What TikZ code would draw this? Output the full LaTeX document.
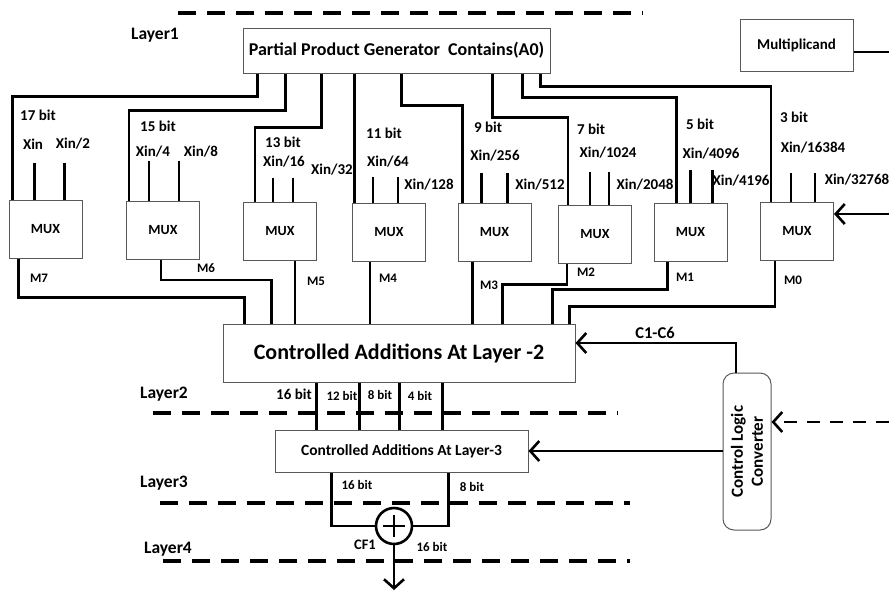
\documentclass[tikz,border=0pt]{standalone}
\usepackage{fontspec}
\setmainfont{Carlito}
\usetikzlibrary{positioning,arrows.meta}

\begin{document}
\begin{tikzpicture}[x=1pt, y=-1pt, every node/.style={align=center, inner sep=0pt},
    block/.style={draw=black!65, line width=1pt, fill=white},
    muxbox/.style={block, minimum width=73pt, minimum height=58pt, font=\bfseries\fontsize{14}{14}\selectfont},
    tag/.style={font=\bfseries\fontsize{13}{13}\selectfont},
    intag/.style={font=\bfseries\fontsize{15}{15}\selectfont},
    layer/.style={font=\bfseries\fontsize{17.5}{17.5}\selectfont},
    wire/.style={line width=2.6pt},
    layerline/.style={line width=3.5pt, dash pattern=on 18pt off 11pt},
    >={Straight Barb[length=9pt,width=20pt]}]

    \useasboundingbox (0,0) rectangle (889,595);

    % layer separators
    \draw[layerline] (178,13) -- (643,13);
    \draw[layerline] (153,413) -- (618,413);
    \draw[layerline] (160,503) -- (630,503);
    \draw[layerline] (163,561) -- (630,561);

    \node[layer] (l1) at (155,35) {Layer1};
    \node[layer] (l2) at (164,394) {Layer2};
    \node[layer] (l3) at (164,483) {Layer3};
    \node[layer] (l4) at (168,549) {Layer4};

    % blocks
    \node[block, minimum width=307pt, minimum height=45pt, font=\bfseries\fontsize{18}{18}\selectfont] (ppg) at (396.5,50.5) {Partial Product Generator\ \ Contains(A0)};
    \node[block, minimum width=113pt, minimum height=52pt, font=\bfseries\fontsize{15}{15}\selectfont] (mult) at (796.5,45) {Multiplicand};

    \node[muxbox] (mux1) at (45.5,229) {MUX};
    \node[muxbox] (mux2) at (163,230.5) {MUX};
    \node[muxbox] (mux3) at (280,231) {MUX};
    \node[muxbox] (mux4) at (389,232) {MUX};
    \node[muxbox] (mux5) at (494.5,232) {MUX};
    \node[muxbox] (mux6) at (595,234) {MUX};
    \node[muxbox] (mux7) at (690.5,232) {MUX};
    \node[muxbox] (mux8) at (797,231) {MUX};

    \node[block, minimum width=352pt, minimum height=58pt, font=\bfseries\fontsize{22}{22}\selectfont] (ca2) at (399,353) {Controlled Additions At Layer -2};
    \node[block, minimum width=253pt, minimum height=42pt, font=\bfseries\fontsize{15.5}{15.5}\selectfont] (ca3) at (401.5,451) {Controlled Additions At Layer-3};
    \node[block, rounded corners=11pt, rotate=90, minimum width=157pt, minimum height=48pt, font=\bfseries\fontsize{17}{20}\selectfont] (clc) at (747,451.5) {Control Logic\\Converter};
    \node[circle, draw, line width=2.6pt, minimum size=36pt] (adder) at (394,526) {};

    % partial products to the muxes
    \draw[wire] ([xshift=15]ppg.south west) -- ++(0,23) -| ([xshift=4]mux1.north west);
    \draw[wire] ([xshift=43]ppg.south west) -- ++(0,37) -| ([xshift=3]mux2.north west);
    \draw[wire] ([xshift=79]ppg.south west) -- ++(0,54) -| ([xshift=12]mux3.north west);
    \draw[wire] ([xshift=112]ppg.south west) -- ([xshift=112]ppg.south west |- mux4.north);
    \draw[wire] ([xshift=159]ppg.south west) -- ++(0,32) -| ([xshift=5]mux5.north west);
    \draw[wire] ([xshift=250]ppg.south west) -- ++(0,44) -| ([xshift=10]mux6.north west);
    \draw[wire] ([xshift=280]ppg.south west) -- ++(0,24) -| ([xshift=23]mux7.north west);
    \draw[wire] ([xshift=298]ppg.south west) -- ++(0,13) -| ([xshift=11]mux8.north west);

    % shifted inputs
    \draw[wire] ([xshift=26]mux1.north west) -- ++(0,-37);
    \draw[wire] ([xshift=56]mux1.north west) -- ++(0,-37);
    \draw[wire] ([xshift=23]mux2.north west) -- ++(0,-40);
    \draw[wire] ([xshift=53]mux2.north west) -- ++(0,-40);
    \draw[wire] ([xshift=30]mux3.north west) -- ++(0,-24);
    \draw[wire] ([xshift=50]mux3.north west) -- ++(0,-24);
    \draw[wire] ([xshift=21]mux4.north west) -- ++(0,-26);
    \draw[wire] ([xshift=46]mux4.north west) -- ++(0,-26);
    \draw[wire] ([xshift=24]mux5.north west) -- ++(0,-30);
    \draw[wire] ([xshift=50]mux5.north west) -- ++(0,-30);
    \draw[wire] ([xshift=32]mux6.north west) -- ++(0,-33);
    \draw[wire] ([xshift=51]mux6.north west) -- ++(0,-33);
    \draw[wire] ([xshift=37]mux7.north west) -- ++(0,-33);
    \draw[wire] ([xshift=59]mux7.north west) -- ++(0,-33);
    \draw[wire] ([xshift=31]mux8.north west) -- ++(0,-29);
    \draw[wire] ([xshift=55]mux8.north west) -- ++(0,-29);

    \node[intag] (b17) at (38,115) {17 bit};
    \node[intag] (x1a) at (33,144) {Xin};
    \node[intag] (x1b) at (73,144) {Xin/2};
    \node[intag] (b15) at (158,126) {15 bit};
    \node[intag] (x2a) at (153,152) {Xin/4};
    \node[intag] (x2b) at (201,152) {Xin/8};
    \node[intag] (b13) at (283,142) {13 bit};
    \node[intag] (x3a) at (284,162) {Xin/16};
    \node[intag] (x3b) at (332,170) {Xin/32};
    \node[intag] (b11) at (384,133) {11 bit};
    \node[intag] (x4a) at (388,162) {Xin/64};
    \node[intag] (x4b) at (429,185) {Xin/128};
    \node[intag] (b9) at (488,127) {9 bit};
    \node[intag] (x5a) at (495,156) {Xin/256};
    \node[intag] (x5b) at (540,185) {Xin/512};
    \node[intag] (b7) at (591,129) {7 bit};
    \node[intag] (x6a) at (608,153) {Xin/1024};
    \node[intag] (x6b) at (645,185) {Xin/2048};
    \node[intag] (b5) at (700,124) {5 bit};
    \node[intag] (x7a) at (711,154) {Xin/4096};
    \node[intag] (x7b) at (741,181) {Xin/4196};
    \node[intag] (b3) at (794,117) {3 bit};
    \node[intag] (x8a) at (813,148) {Xin/16384};
    \node[intag] (x8b) at (857,180) {Xin/32768};

    % mux outputs
    \draw[wire] ([xshift=10]mux1.south west) -- ++(0,39) -| ([xshift=22]ca2.north west);
    \draw[wire] ([xshift=35]mux2.south west) -- ++(0,20) -| ([xshift=49]ca2.north west);
    \draw[wire] ([xshift=52]mux3.south west) -- ([xshift=52]mux3.south west |- ca2.north);
    \draw[wire] ([xshift=18]mux4.south west) -- ([xshift=18]mux4.south west |- ca2.north);
    \draw[wire] ([xshift=15]mux5.south west) -- ([xshift=15]mux5.south west |- ca2.north);
    \draw[wire] ([xshift=9]mux6.south west) -- ++(0,21) -| ([xshift=280]ca2.north west);
    \draw[wire] ([xshift=14]mux7.south west) -- ++(0,28) -| ([xshift=330]ca2.north west);
    \draw[wire] ([xshift=15]mux8.south west) -- ++(0,46) -| ([xshift=347]ca2.north west);

    \node[tag] (m7) at (39,278) {M7};
    \node[tag] (m6) at (206,268) {M6};
    \node[tag] (m5) at (316,281) {M5};
    \node[tag] (m4) at (388,278) {M4};
    \node[tag] (m3) at (489,285) {M3};
    \node[tag] (m2) at (586,272) {M2};
    \node[tag] (m1) at (685,277) {M1};
    \node[tag] (m0) at (793,280) {M0};

    % layer 2 to layer 3
    \draw[wire] ([xshift=94]ca2.south west) -- ([xshift=94]ca2.south west |- ca3.north);
    \draw[wire] ([xshift=137]ca2.south west) -- ([xshift=137]ca2.south west |- ca3.north);
    \draw[wire] ([xshift=177]ca2.south west) -- ([xshift=177]ca2.south west |- ca3.north);
    \draw[wire] ([xshift=220]ca2.south west) -- ([xshift=220]ca2.south west |- ca3.north);
    \node[intag] (s16) at (294,394) {16 bit};
    \node[tag] (s12) at (342,396) {12 bit};
    \node[tag] (s8) at (380,395) {8 bit};
    \node[tag] (s4) at (420,396) {4 bit};

    % final addition
    \draw[wire] ([xshift=57]ca3.south west) |- (adder.west);
    \draw[wire] ([xshift=174]ca3.south west) |- (adder.east);
    \draw[wire] ([xshift=-11]adder.center) -- ([xshift=11]adder.center);
    \draw[wire] ([yshift=-11]adder.center) -- ([yshift=11]adder.center);
    \coordinate (sum) at (394,590);
    \draw[wire,->] (adder.south) -- (sum);
    \node[tag] (t16) at (357,485) {16 bit};
    \node[tag] (t8) at (472,487) {8 bit};
    \node[font=\bfseries\fontsize{14.5}{14.5}\selectfont] (cf1) at (365,545) {CF1};
    \node[tag] (o16) at (432,547) {16 bit};

    % control
    \draw[wire,->] ([xshift=-11]clc.east) |- ([yshift=10]ca2.east);
    \node[font=\bfseries\fontsize{16.5}{16.5}\selectfont] (cc) at (655,333) {C1-C6};
    \draw[wire,->] (ca3.east -| clc.north) -- (ca3.east);
    \coordinate (clcin) at (889,422);
    \draw[wire, dash pattern=on 13pt off 10pt, ->] (clcin) -- (clcin -| clc.south);

    % inputs on the right
    \coordinate (muxin) at (889,214);
    \draw[wire,->] (muxin) -- (muxin -| mux8.east);
    \coordinate (multout) at (889,52);
    \draw[wire] (multout -| mult.east) -- (multout);
\end{tikzpicture}
\end{document}
